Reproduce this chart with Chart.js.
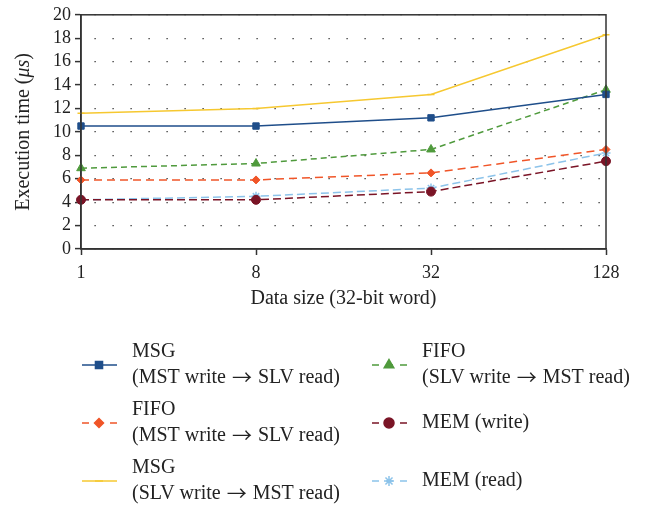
<!DOCTYPE html>
<html>
<head>
<meta charset="utf-8">
<script src="https://cdn.jsdelivr.net/npm/chart.js@4"></script>
<style>
  body { margin: 0; background: #fff; }
  #wrap { width: 656px; height: 507px; }
</style>
</head>
<body>
<div id="wrap"><canvas id="execTime" width="656" height="507"></canvas></div>
<script>
// data
const sizes = ["1", "8", "32", "128"];
const yTicks = [0, 2, 4, 6, 8, 10, 12, 14, 16, 18, 20];
const msgMstSlv = [10.5, 10.5, 11.2, 13.2];
const fifoMstSlv = [5.9, 5.9, 6.5, 8.5];
const msgSlvMst = [11.6, 12.0, 13.2, 18.3];
const fifoSlvMst = [6.9, 7.3, 8.5, 13.6];
const memWrite = [4.2, 4.2, 4.9, 7.5];
const memRead = [4.2, 4.5, 5.2, 8.2];

const names = [
    ["MSG", "(MST write \u2192 SLV read)"],
    ["FIFO", "(MST write \u2192 SLV read)"],
    ["MSG", "(SLV write \u2192 MST read)"],
    ["FIFO", "(SLV write \u2192 MST read)"],
    ["MEM (write)"],
    ["MEM (read)"]
];
const yTitle = ["Execution time (", "\u03bcs", ")"];

const serif = "'Liberation Serif', 'DejaVu Serif', serif";

function series(i, data, color, style, radius, dash) {
    return {
        label: names[i].join(" "),
        lines: names[i],
        data: data,
        borderColor: color,
        backgroundColor: color,
        borderWidth: 1.5,
        borderDash: dash,
        pointStyle: style,
        pointRadius: radius,
        pointHoverRadius: radius,
        pointBorderWidth: style === "star" || style === "line" ? 1.5 : 1,
        tension: 0
    };
}

const datasets = [
    series(0, msgMstSlv, "#1f4e8a", "rect", 4.5, []),
    series(1, fifoMstSlv, "#f05528", "rectRot", 4, [8, 5]),
    series(2, msgSlvMst, "#f6c830", "line", 3.5, []),
    series(3, fifoSlvMst, "#4f9a3c", "triangle", 5, [6, 4]),
    series(4, memWrite, "#7a1426", "circle", 4.5, [8, 4]),
    series(5, memRead, "#8cc3ea", "star", 4.5, [8, 4])
];

// text with the arrow drawn in a font that has a long thin one
function drawLabel(ctx, text, x, y) {
    const parts = text.split("\u2192");
    let cx = x;
    parts.forEach((p, k) => {
        ctx.font = "20px " + serif;
        ctx.fillText(p, cx, y);
        cx += ctx.measureText(p).width;
        if (k < parts.length - 1) {
            ctx.font = "20px 'Noto Sans CJK JP'";
            ctx.fillText("\u2192", cx + 1, y - 1);
            cx += ctx.measureText("\u2192").width + 2;
        }
    });
}

// box around the plot area, y title with italic unit, two-column legend
const frameAndLegend = {
    id: "frameAndLegend",
    afterDatasetsDraw(chart) {
        const ctx = chart.ctx;
        const a = chart.chartArea;
        ctx.save();
        ctx.strokeStyle = "#333";
        ctx.lineWidth = 1.5;
        ctx.setLineDash([]);
        ctx.strokeRect(a.left, a.top, a.right - a.left, a.bottom - a.top);
        ctx.restore();
    },
    afterDraw(chart) {
        const ctx = chart.ctx;
        const a = chart.chartArea;
        ctx.save();
        ctx.fillStyle = "#222";
        ctx.textBaseline = "middle";

        // y axis title
        ctx.translate(24, (a.top + a.bottom) / 2);
        ctx.rotate(-Math.PI / 2);
        const fonts = ["20px " + serif, "italic 20px " + serif, "20px " + serif];
        let total = 0;
        yTitle.forEach((t, k) => { ctx.font = fonts[k]; total += ctx.measureText(t).width; });
        let tx = -total / 2;
        yTitle.forEach((t, k) => {
            ctx.font = fonts[k];
            ctx.fillText(t, tx, 0);
            tx += ctx.measureText(t).width;
        });
        ctx.setTransform(1, 0, 0, 1, 0, 0);

        // legend
        const colX = [82, 372];
        const rowY = [365, 423, 481];
        chart.data.datasets.forEach((ds, i) => {
            const x = colX[Math.floor(i / 3)];
            const y = rowY[i % 3];
            ctx.strokeStyle = ds.borderColor;
            ctx.lineWidth = 1.5;
            ctx.setLineDash(ds.borderDash.length ? [7, 7] : []);
            ctx.beginPath();
            ctx.moveTo(x, y);
            ctx.lineTo(x + 35, y);
            ctx.stroke();
            ctx.setLineDash([]);
            ctx.fillStyle = ds.backgroundColor;
            Chart.helpers.drawPoint(ctx, {
                pointStyle: ds.pointStyle,
                radius: ds.pointRadius + 0.5,
                rotation: 0,
                borderWidth: ds.pointBorderWidth
            }, x + 17, y);
            ctx.fillStyle = "#222";
            const lines = ds.lines;
            if (lines.length === 2) {
                drawLabel(ctx, lines[0], x + 50, y - 13);
                drawLabel(ctx, lines[1], x + 50, y + 13);
            } else {
                drawLabel(ctx, lines[0], x + 50, y);
            }
        });
        ctx.restore();
    }
};

new Chart(document.getElementById("execTime"), {
    type: "line",
    data: { labels: sizes, datasets: datasets },
    options: {
        responsive: false,
        animation: false,
        layout: { padding: { left: 0, right: 50, top: 12, bottom: 196 } },
        plugins: {
            legend: { display: false },
            tooltip: { enabled: false }
        },
        scales: {
            x: {
                offset: false,
                afterFit(scale) { scale.height = 62; },
                grid: {
                    display: true,
                    drawOnChartArea: false,
                    drawTicks: true,
                    tickLength: 6,
                    tickColor: "#333",
                    tickWidth: 1.5
                },
                border: { display: true, color: "#333", width: 1.5 },
                ticks: {
                    color: "#222",
                    padding: 7,
                    maxRotation: 0,
                    font: { family: serif, size: 18 }
                },
                title: {
                    display: true,
                    text: "Data size (32-bit word)",
                    color: "#222",
                    padding: { top: 2, bottom: 0 },
                    font: { family: serif, size: 20 }
                }
            },
            y: {
                min: 0,
                max: 20,
                afterFit(scale) { scale.width = 81; },
                afterBuildTicks(scale) {
                    scale.ticks = yTicks.map(v => ({ value: v }));
                },
                grid: {
                    color: "#222",
                    lineWidth: 1.2,
                    drawTicks: true,
                    tickLength: 6,
                    tickColor: "#333",
                    tickWidth: 1.5,
                    tickBorderDash: []
                },
                border: { display: true, color: "#333", width: 1.5, dash: [1.2, 16.8], dashOffset: 5 },
                ticks: {
                    color: "#222",
                    padding: 4,
                    autoSkip: false,
                    font: { family: serif, size: 18 }
                },
                title: { display: false }
            }
        }
    },
    plugins: [frameAndLegend]
});
</script>
</body>
</html>
